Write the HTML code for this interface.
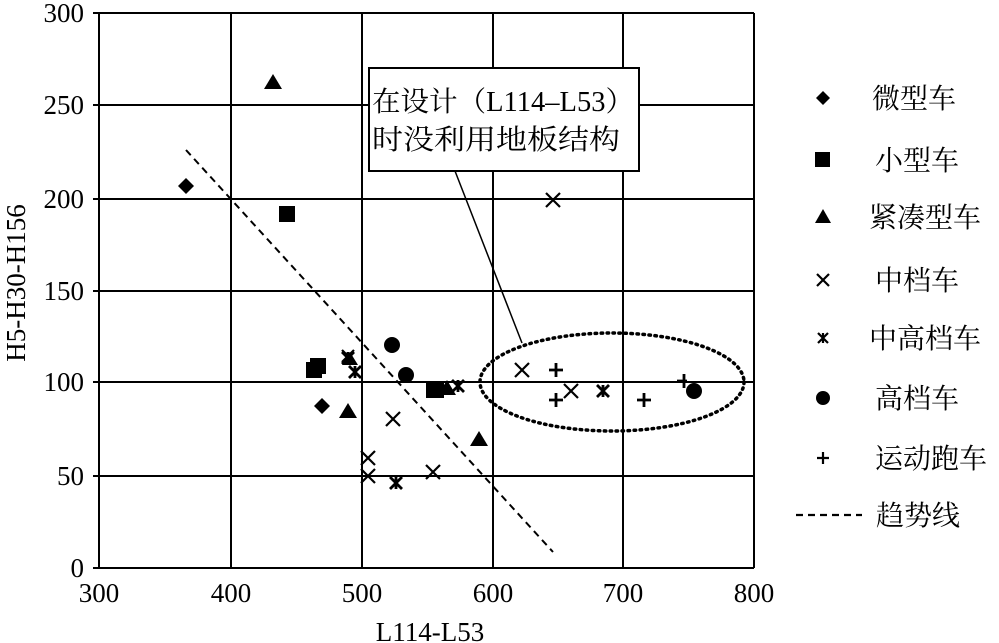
<!DOCTYPE html>
<html><head><meta charset="utf-8"><style>
html,body{margin:0;padding:0;background:#fff;}
svg{display:block}
.t{font-family:"Liberation Serif","Noto Serif CJK SC",serif;font-size:27px;fill:#000}
.c{font-family:"Liberation Serif","Noto Serif CJK SC","Noto Sans CJK SC",serif;font-size:28px;fill:#000}
</style></head><body>
<svg width="999" height="643" viewBox="0 0 999 643" xmlns="http://www.w3.org/2000/svg">
<g stroke="#000" stroke-width="2" fill="none">
<line x1="99" y1="13" x2="99" y2="568"/>
<line x1="231" y1="13" x2="231" y2="568"/>
<line x1="362" y1="13" x2="362" y2="568"/>
<line x1="493" y1="13" x2="493" y2="568"/>
<line x1="623" y1="13" x2="623" y2="568"/>
<line x1="754" y1="13" x2="754" y2="568"/>
<line x1="93" y1="13" x2="754" y2="13"/>
<line x1="93" y1="105" x2="754" y2="105"/>
<line x1="93" y1="199" x2="754" y2="199"/>
<line x1="93" y1="291" x2="754" y2="291"/>
<line x1="93" y1="382" x2="754" y2="382"/>
<line x1="93" y1="476" x2="754" y2="476"/>
<line x1="93" y1="568" x2="754" y2="568"/>
<line x1="186" y1="150" x2="553" y2="552" stroke-dasharray="7,5"/>
<ellipse cx="612" cy="382" rx="132" ry="49" stroke-width="3.5" stroke-dasharray="1.5,4.5" stroke-linecap="round"/>
<line x1="455" y1="171" x2="522" y2="343" stroke-width="1.5"/>
</g>
<rect x="369" y="68" width="270" height="103" fill="#fff" stroke="#000" stroke-width="2"/>
<text class="c" x="372" y="111" textLength="262" lengthAdjust="spacingAndGlyphs">在设计（L114–L53）</text>
<text class="c" x="372" y="149" textLength="248" lengthAdjust="spacingAndGlyphs">时没利用地板结构</text>
<g fill="#000">
<path d="M186 178l8 8-8 8-8-8z"/><path d="M322 398l8 8-8 8-8-8z"/>
<rect x="279" y="206" width="16" height="16"/><rect x="306" y="362" width="16" height="16"/><rect x="310" y="358" width="16" height="16"/>
<rect x="426" y="382" width="16" height="16"/><rect x="430" y="382" width="14" height="16"/>
<path d="M273 74l9 15h-18z"/><path d="M348 403l9 15h-18z"/><path d="M447 380l9 15h-18z"/><path d="M479 431l9 15h-18z"/><path d="M350 352l8 13h-16z"/>
<circle cx="392" cy="345" r="8"/><circle cx="406" cy="375" r="8"/><circle cx="694" cy="391" r="8"/>
</g>
<g stroke="#000" stroke-width="2.2" fill="none">
<path d="M386 412l14 14M400 412l-14 14"/>
<path d="M361 451l14 14M375 451l-14 14"/>
<path d="M361 469l14 14M375 469l-14 14"/>
<path d="M426 465l14 14M440 465l-14 14"/>
<path d="M515 363l14 14M529 363l-14 14"/>
<path d="M564 384l14 14M578 384l-14 14"/>
<path d="M546 193l14 14M560 193l-14 14"/>
<path d="M342 350l12 12M354 350l-12 12"/>
</g>
<g stroke="#000" stroke-width="2.8" fill="none">
<path d="M342 352l12 12M354 352l-12 12M348 352v12"/>
<path d="M349 366l12 12M361 366l-12 12M355 366v12"/>
<path d="M390 477l12 12M402 477l-12 12M396 477v12"/>
<path d="M452 380l12 12M464 380l-12 12M458 380v12"/>
<path d="M597 385l12 12M609 385l-12 12M603 385v12"/>
<path d="M549 370h14M556 363v14"/><path d="M549 400h14M556 393v14"/><path d="M637 400h14M644 393v14"/><path d="M677 381h10M684 374v14"/>
</g>
<g class="t" text-anchor="end">
<text x="84" y="22">300</text><text x="84" y="114">250</text><text x="84" y="208">200</text><text x="84" y="300">150</text><text x="84" y="391">100</text><text x="84" y="485">50</text><text x="84" y="577">0</text>
</g>
<g class="t" text-anchor="middle">
<text x="99" y="602">300</text><text x="231" y="602">400</text><text x="362" y="602">500</text><text x="493" y="602">600</text><text x="623" y="602">700</text><text x="754" y="602">800</text>
<text x="430" y="641">L114-L53</text>
<text transform="translate(25,283) rotate(-90)">H5-H30-H156</text>
</g>
<g fill="#000">
<path d="M823 91l7 7-7 7-7-7z"/>
<rect x="815" y="152" width="15" height="15"/>
<path d="M823 209l8 14h-16z"/>
<circle cx="823" cy="398" r="7"/>
</g>
<g stroke="#000" stroke-width="2.2" fill="none">
<path d="M817 274l12 12M829 274l-12 12"/>
<path d="M818 333l10 10M828 333l-10 10M823 333v10"/>
<path d="M817 458h12M823 452v12"/>
<line x1="796" y1="515" x2="862" y2="515" stroke-dasharray="7,5"/>
</g>
<g class="c">
<text x="872" y="108">微型车</text>
<text x="875" y="170">小型车</text>
<text x="869" y="227">紧凑型车</text>
<text x="875" y="290">中档车</text>
<text x="869" y="348">中高档车</text>
<text x="875" y="408">高档车</text>
<text x="875" y="468">运动跑车</text>
<text x="876" y="525">趋势线</text>
</g>
</svg>
</body></html>
